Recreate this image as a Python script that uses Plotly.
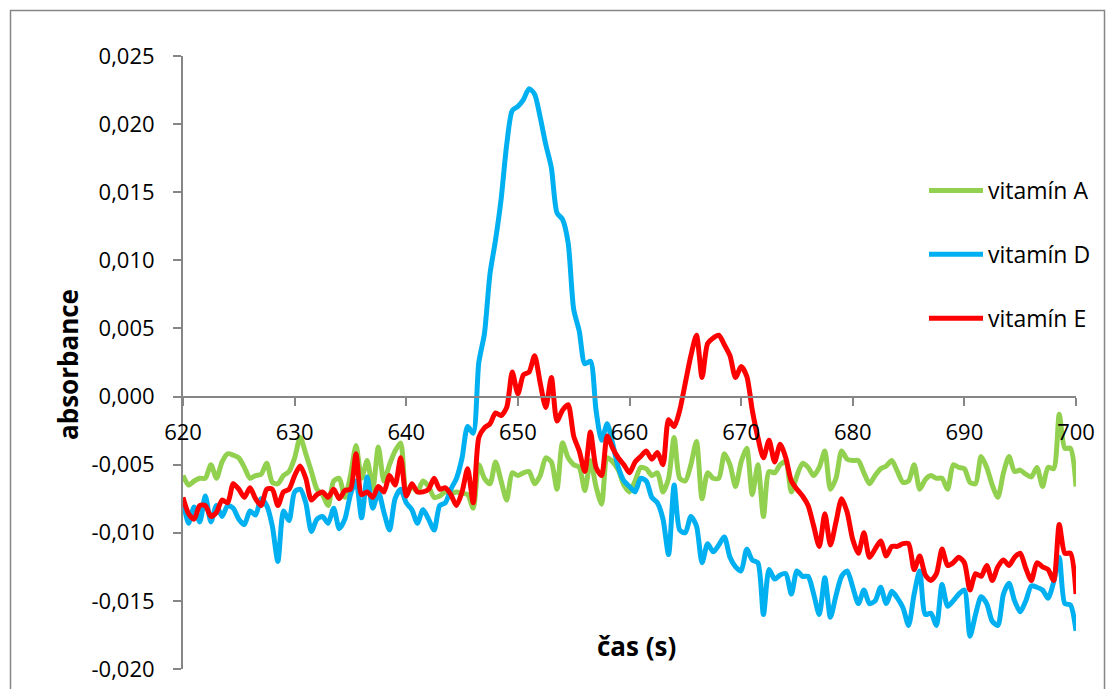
import plotly.graph_objects as go

# time axis (s), 0.5 s sampling
t_start = 620.0
t_step = 0.5

vit_a = [
    -0.0058, -0.0065, -0.0062, -0.0060, -0.0060, -0.0050, -0.0060, -0.0048, -0.0042, -0.0043,
    -0.0045, -0.0052, -0.0060, -0.0058, -0.0057, -0.0049, -0.0063, -0.0064, -0.0058, -0.0055,
    -0.0045, -0.0030, -0.0042, -0.0055, -0.0068, -0.0072, -0.0080, -0.0062, -0.0060, -0.0074,
    -0.0058, -0.0036, -0.0060, -0.0047, -0.0068, -0.0037, -0.0062, -0.0050, -0.0040, -0.0034,
    -0.0072, -0.0066, -0.0070, -0.0062, -0.0066, -0.0074, -0.0073, -0.0070, -0.0071, -0.0070,
    -0.0071, -0.0072, -0.0082, -0.0050, -0.0060, -0.0064, -0.0048, -0.0062, -0.0076, -0.0056,
    -0.0058, -0.0056, -0.0055, -0.0064, -0.0058, -0.0045, -0.0048, -0.0068, -0.0034, -0.0045,
    -0.0050, -0.0052, -0.0069, -0.0047, -0.0066, -0.0079, -0.0045, -0.0048, -0.0054, -0.0065,
    -0.0070, -0.0062, -0.0052, -0.0053, -0.0058, -0.0056, -0.0070, -0.0060, -0.0030, -0.0060,
    -0.0062, -0.0050, -0.0033, -0.0075, -0.0056, -0.0060, -0.0060, -0.0042, -0.0050, -0.0066,
    -0.0048, -0.0038, -0.0072, -0.0050, -0.0088, -0.0055, -0.0056, -0.0050, -0.0048, -0.0070,
    -0.0058, -0.0049, -0.0052, -0.0058, -0.0052, -0.0040, -0.0068, -0.0060, -0.0040, -0.0046,
    -0.0047, -0.0047, -0.0056, -0.0064, -0.0058, -0.0053, -0.0051, -0.0047, -0.0055, -0.0063,
    -0.0062, -0.0050, -0.0068, -0.0061, -0.0058, -0.0060, -0.0060, -0.0068, -0.0050, -0.0052,
    -0.0053, -0.0063, -0.0064, -0.0044, -0.0052, -0.0065, -0.0074, -0.0056, -0.0044, -0.0055,
    -0.0054, -0.0057, -0.0059, -0.0052, -0.0066, -0.0052, -0.0053, -0.0013, -0.0038, -0.0038,
    -0.0066,
]

vit_d = [
    -0.0076, -0.0093, -0.0081, -0.0092, -0.0073, -0.0092, -0.0080, -0.0088, -0.0080, -0.0082,
    -0.0090, -0.0094, -0.0084, -0.0087, -0.0075, -0.0080, -0.0095, -0.0121, -0.0084, -0.0091,
    -0.0070, -0.0068, -0.0078, -0.0099, -0.0090, -0.0088, -0.0093, -0.0082, -0.0097, -0.0090,
    -0.0072, -0.0062, -0.0089, -0.0059, -0.0082, -0.0070, -0.0085, -0.0098, -0.0075, -0.0068,
    -0.0078, -0.0083, -0.0093, -0.0083, -0.0090, -0.0098, -0.0080, -0.0078, -0.0068, -0.0060,
    -0.0045, -0.0022, -0.0027, 0.0025, 0.0046, 0.0090, 0.0115, 0.0145, 0.0185, 0.0210,
    0.0213, 0.0218, 0.0226, 0.0222, 0.0205, 0.0185, 0.0168, 0.0135, 0.0130, 0.0113,
    0.0064, 0.0048, 0.0024, 0.0026, -0.0010, -0.0032, -0.0020, -0.0035, -0.0052, -0.0062,
    -0.0066, -0.0070, -0.0060, -0.0062, -0.0074, -0.0078, -0.0090, -0.0116, -0.0065, -0.0098,
    -0.0100, -0.0088, -0.0095, -0.0122, -0.0108, -0.0114, -0.0109, -0.0103, -0.0118, -0.0125,
    -0.0128, -0.0112, -0.0120, -0.0122, -0.0160, -0.0127, -0.0134, -0.0131, -0.0130, -0.0145,
    -0.0128, -0.0132, -0.0132, -0.0145, -0.0160, -0.0133, -0.0162, -0.0146, -0.0132, -0.0128,
    -0.0140, -0.0152, -0.0142, -0.0152, -0.0150, -0.0140, -0.0152, -0.0143, -0.0148, -0.0155,
    -0.0168, -0.0145, -0.0128, -0.0160, -0.0159, -0.0168, -0.0138, -0.0154, -0.0150, -0.0145,
    -0.0142, -0.0176, -0.0160, -0.0147, -0.0152, -0.0165, -0.0168, -0.0145, -0.0137, -0.0150,
    -0.0158, -0.0150, -0.0139, -0.0140, -0.0142, -0.0148, -0.0136, -0.0118, -0.0152, -0.0153,
    -0.0172,
]

vit_e = [
    -0.0074, -0.0086, -0.0090, -0.0080, -0.0080, -0.0088, -0.0085, -0.0076, -0.0078, -0.0064,
    -0.0068, -0.0074, -0.0067, -0.0075, -0.0080, -0.0068, -0.0068, -0.0080, -0.0070, -0.0068,
    -0.0058, -0.0051, -0.0060, -0.0076, -0.0072, -0.0070, -0.0074, -0.0068, -0.0075, -0.0069,
    -0.0068, -0.0042, -0.0072, -0.0070, -0.0074, -0.0066, -0.0070, -0.0058, -0.0065, -0.0045,
    -0.0073, -0.0064, -0.0070, -0.0070, -0.0068, -0.0060, -0.0068, -0.0067, -0.0072, -0.0080,
    -0.0070, -0.0053, -0.0078, -0.0030, -0.0023, -0.0020, -0.0012, -0.0014, -0.0008, 0.0018,
    0.0002, 0.0016, 0.0018, 0.0030, 0.0010, -0.0008, 0.0014, -0.0018, -0.0010, -0.0006,
    -0.0029, -0.0040, -0.0055, -0.0026, -0.0052, -0.0058, -0.0029, -0.0038, -0.0045, -0.0050,
    -0.0056, -0.0048, -0.0044, -0.0040, -0.0046, -0.0041, -0.0050, -0.0017, -0.0022, -0.0010,
    0.0010, 0.0030, 0.0045, 0.0014, 0.0039, 0.0043, 0.0045, 0.0038, 0.0030, 0.0014,
    0.0022, 0.0015, -0.0010, -0.0030, -0.0045, -0.0032, -0.0048, -0.0035, -0.0045, -0.0062,
    -0.0068, -0.0073, -0.0080, -0.0095, -0.0110, -0.0086, -0.0109, -0.0092, -0.0075, -0.0085,
    -0.0105, -0.0115, -0.0100, -0.0118, -0.0112, -0.0106, -0.0117, -0.0110, -0.0110, -0.0108,
    -0.0108, -0.0127, -0.0117, -0.0131, -0.0135, -0.0130, -0.0112, -0.0124, -0.0122, -0.0118,
    -0.0122, -0.0142, -0.0130, -0.0132, -0.0124, -0.0135, -0.0125, -0.0120, -0.0124, -0.0118,
    -0.0115, -0.0126, -0.0135, -0.0122, -0.0125, -0.0127, -0.0135, -0.0094, -0.0115, -0.0115,
    -0.0145,
]

series_names = ["vitamín A", "vitamín D", "vitamín E"]
series_colors = ["#92D050", "#00B0F0", "#FF0000"]

x_tick_vals = [620, 630, 640, 650, 660, 670, 680, 690, 700]
y_tick_vals = [-0.020, -0.015, -0.010, -0.005, 0.000, 0.005, 0.010, 0.015, 0.020, 0.025]
y_tick_text = ["-0,020", "-0,015", "-0,010", "-0,005", "0,000", "0,005", "0,010", "0,015", "0,020", "0,025"]

times = [t_start + i * t_step for i in range(len(vit_a))]

FONT = "Open Sans, Liberation Sans, sans-serif"

fig = go.Figure()
for i, (name, vals, col) in enumerate(zip(series_names, [vit_a, vit_d, vit_e], series_colors)):
    fig.add_trace(go.Scatter(
        x=times, y=vals, name=name, mode="lines",
        line=dict(color=col, width=5, shape="spline", smoothing=0.7),
        legendgroup=f"g{i}",
    ))

W, H = 1115, 689
ml, mr, mt, mb = 183, 39, 56, 20
pw = W - ml - mr
ph = H - mt - mb

def px_to_paper_x(px):
    return (px - ml) / pw

def px_to_paper_y(py):
    return (H - mb - py) / ph

fig.update_layout(
    width=W, height=H,
    margin=dict(l=ml, r=mr, t=mt, b=mb, autoexpand=False),
    paper_bgcolor="white", plot_bgcolor="white",
    font=dict(family=FONT, size=22, color="black"),
    showlegend=True,
    legend=dict(
        x=px_to_paper_x(924), y=px_to_paper_y(169), xanchor="left", yanchor="top",
        font=dict(family=FONT, size=23, color="black"),
        tracegroupgap=31, traceorder="grouped",
        bgcolor="rgba(0,0,0,0)", itemwidth=54,
    ),
    xaxis=dict(
        range=[620, 700], tickvals=x_tick_vals,
        showgrid=False, zeroline=False, automargin=False,
        showline=True, linecolor="#868686", linewidth=2,
        ticks="outside", ticklen=8, tickcolor="#868686", tickwidth=2,
        anchor="free", position=(0 - (-0.020)) / (0.025 - (-0.020)),
        ticklabelstandoff=8,
        tickfont=dict(family=FONT, size=22, color="black"),
    ),
    yaxis=dict(
        range=[-0.020, 0.025], tickvals=y_tick_vals, ticktext=y_tick_text,
        showgrid=False, zeroline=False, automargin=False,
        showline=True, linecolor="#868686", linewidth=2,
        ticks="outside", ticklen=8, tickcolor="#868686", tickwidth=2,
        ticklabelstandoff=14,
        tickfont=dict(family=FONT, size=22, color="black"),
    ),
    annotations=[
        dict(text="<b>absorbance</b>", textangle=-90, x=px_to_paper_x(68), y=px_to_paper_y(364),
             xref="paper", yref="paper", showarrow=False, xanchor="center", yanchor="middle",
             font=dict(family=FONT, size=26, color="black")),
        dict(text="<b>čas (s)</b>", x=px_to_paper_x(636), y=px_to_paper_y(646),
             xref="paper", yref="paper", showarrow=False, xanchor="center", yanchor="middle",
             font=dict(family=FONT, size=26, color="black")),
    ],
    shapes=[
        dict(type="rect", xref="paper", yref="paper",
             x0=px_to_paper_x(10.5), x1=px_to_paper_x(1104.5),
             y0=px_to_paper_y(700), y1=px_to_paper_y(10.5),
             line=dict(color="#868686", width=1.5), fillcolor="rgba(0,0,0,0)", layer="below"),
    ],
)

fig.write_html("out.html")
